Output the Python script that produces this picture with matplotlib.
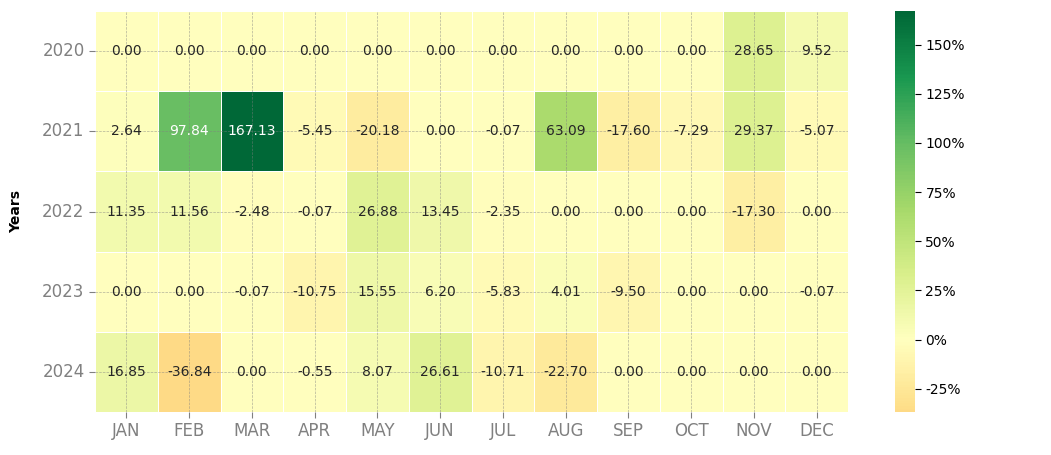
import numpy as np
import pandas as pd
import seaborn as sns
from matplotlib import pyplot as plt
from matplotlib.ticker import FuncFormatter

years = ["2020", "2021", "2022", "2023", "2024"]
months = ["JAN", "FEB", "MAR", "APR", "MAY", "JUN",
          "JUL", "AUG", "SEP", "OCT", "NOV", "DEC"]

r2020 = [0.00, 0.00, 0.00, 0.00, 0.00, 0.00, 0.00, 0.00, 0.00, 0.00, 28.65, 9.52]
r2021 = [2.64, 97.84, 167.13, -5.45, -20.18, 0.00, -0.07, 63.09, -17.60, -7.29, 29.37, -5.07]
r2022 = [11.35, 11.56, -2.48, -0.07, 26.88, 13.45, -2.35, 0.00, 0.00, 0.00, -17.30, 0.00]
r2023 = [0.00, 0.00, -0.07, -10.75, 15.55, 6.20, -5.83, 4.01, -9.50, 0.00, 0.00, -0.07]
r2024 = [16.85, -36.84, 0.00, -0.55, 8.07, 26.61, -10.71, -22.70, 0.00, 0.00, 0.00, 0.00]

returns = pd.DataFrame([r2020, r2021, r2022, r2023, r2024],
                       index=years, columns=months)

fig = plt.figure(figsize=(10.51, 4.55), dpi=100)
ax = fig.add_axes([0.0904, 0.0945, 0.7165, 0.8813])
cax = fig.add_axes([0.8516, 0.0945, 0.019, 0.8813])

sns.heatmap(returns, ax=ax, cbar_ax=cax, cmap="RdYlGn", center=0,
            annot=True, fmt="0.2f", annot_kws={"size": 10},
            linewidths=0.5, linecolor="white")

# grid tracejado por cima das células
ax.set_axisbelow(False)
ax.grid(True, ls="--", color="gray", lw=0.5, alpha=0.6)

ax.set_ylabel("Years", fontsize=10, fontweight="bold", labelpad=14)
ax.set_xlabel("")
ax.tick_params(axis="both", colors="gray", labelsize=12, length=4, width=0.8)
ax.set_yticklabels(years, rotation=0)
ax.set_xticklabels(months, rotation=0)

cax.yaxis.set_major_formatter(FuncFormatter(lambda v, p: "%d%%" % v))
cax.tick_params(labelsize=10, length=4)
cax.set_yticks([-25, 0, 25, 50, 75, 100, 125, 150])

fig.savefig("out.png", dpi=100)
